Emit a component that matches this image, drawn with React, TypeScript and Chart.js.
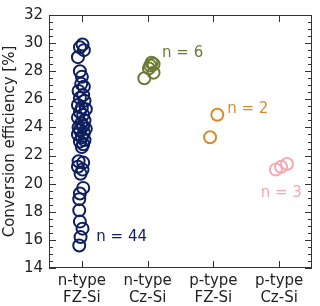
import React, { useEffect, useRef } from "react";
import { Chart, registerables } from "chart.js";

Chart.register(...registerables);

const categories: string[][] = [
  ["n-type", "FZ-Si"],
  ["n-type", "Cz-Si"],
  ["p-type", "FZ-Si"],
  ["p-type", "Cz-Si"],
];

const yTicks = [14, 16, 18, 20, 22, 24, 26, 28, 30, 32];

// n-type FZ-Si (44 cells)
const nFzEff = [
  29.9, 29.7, 29.5, 29.0, 28.0, 27.6, 27.1, 26.9, 26.6, 26.3, 26.1, 25.9, 25.6, 25.4,
  25.3, 25.1, 24.9, 24.7, 24.5, 24.3, 24.1, 24.0, 23.9, 23.8, 23.6, 23.5, 23.3, 23.1,
  23.0, 22.8, 22.6, 21.6, 21.5, 21.2, 21.0, 20.7, 19.7, 19.3, 18.9, 18.1, 17.3, 16.8,
  16.2, 15.6,
];
const nFzJitter = [
  0.01, -0.03, 0.03, -0.06, -0.03, 0.0, -0.01, 0.03, -0.05, 0.02, -0.03, 0.04, -0.06, 0.0,
  0.06, -0.03, 0.02, -0.06, 0.04, -0.01, 0.02, -0.05, 0.06, -0.03, 0.03, -0.06, 0.0, 0.04,
  -0.03, 0.02, 0.0, -0.05, 0.02, -0.06, 0.01, -0.02, 0.02, -0.03, -0.04, -0.04, -0.03, 0.01,
  -0.02, -0.04,
];

// n-type Cz-Si (6 cells)
const nCzEff = [28.6, 28.5, 28.4, 28.2, 27.9, 27.5];
const nCzJitter = [0.06, 0.09, 0.04, 0.02, 0.09, -0.05];

// p-type FZ-Si (2 cells)
const pFzEff = [24.9, 23.3];
const pFzJitter = [0.06, -0.05];

// p-type Cz-Si (3 cells)
const pCzEff = [21.0, 21.2, 21.4];
const pCzJitter = [-0.05, 0.03, 0.12];

const seriesColors = ["#0f1f5e", "#6b7b34", "#d68c2c", "#f7a9b1"];
const countLabels = ["n = 44", "n = 6", "n = 2", "n = 3"];
const countLabelX = [0.22, 1.22, 2.21, 2.72];
const countLabelY = [16.2, 29.3, 25.3, 19.3];

const FONT = "DejaVu Sans";

function pts(cat: number, eff: number[], jit: number[]) {
  return eff.map((v, i) => ({ x: cat + jit[i], y: v }));
}

const framePlugin = {
  id: "frameTicks",
  afterDraw(chart: any) {
    const { ctx, chartArea: a } = chart;
    const ys = chart.scales.y;
    const xs = chart.scales.x;
    ctx.save();
    ctx.strokeStyle = "#333";
    ctx.lineWidth = 1;
    ctx.strokeRect(a.left + 0.5, a.top + 0.5, a.right - a.left - 1, a.bottom - a.top - 1);
    ctx.beginPath();
    for (let v = 14; v <= 32.001; v += 0.5) {
      const major = Math.abs(v / 2 - Math.round(v / 2)) < 1e-6;
      const len = major ? 7 : 4;
      const y = Math.round(ys.getPixelForValue(v)) + 0.5;
      ctx.moveTo(a.left, y);
      ctx.lineTo(a.left + len, y);
      ctx.moveTo(a.right, y);
      ctx.lineTo(a.right - len, y);
    }
    for (let c = 0; c < categories.length; c++) {
      const x = Math.round(xs.getPixelForValue(c)) + 0.5;
      ctx.moveTo(x, a.bottom);
      ctx.lineTo(x, a.bottom - 7);
      ctx.moveTo(x, a.top);
      ctx.lineTo(x, a.top + 7);
    }
    ctx.stroke();
    ctx.font = `15px '${FONT}'`;
    ctx.textAlign = "left";
    ctx.textBaseline = "middle";
    for (let i = 0; i < countLabels.length; i++) {
      ctx.fillStyle = seriesColors[i];
      ctx.fillText(
        countLabels[i],
        xs.getPixelForValue(countLabelX[i]),
        ys.getPixelForValue(countLabelY[i])
      );
    }
    ctx.restore();
  },
};

export default function App() {
  const ref = useRef<HTMLCanvasElement | null>(null);
  useEffect(() => {
    document.body.style.margin = "0";
    if (!ref.current) return;
    Chart.defaults.font.family = FONT;
    Chart.defaults.font.size = 15;
    Chart.defaults.color = "#222";
    const sets = [
      pts(0, nFzEff, nFzJitter),
      pts(1, nCzEff, nCzJitter),
      pts(2, pFzEff, pFzJitter),
      pts(3, pCzEff, pCzJitter),
    ];
    const chart = new Chart(ref.current, {
      type: "scatter",
      data: {
        datasets: sets.map((d, i) => ({
          data: d,
          borderColor: seriesColors[i],
          backgroundColor: "rgba(0,0,0,0)",
          pointRadius: 6,
          pointBorderWidth: 2,
          pointHoverRadius: 6,
        })),
      },
      plugins: [framePlugin],
      options: {
        animation: false,
        responsive: false,
        events: [],
        layout: { padding: { top: 8, right: 4, left: 0, bottom: 0 } },
        plugins: { legend: { display: false }, tooltip: { enabled: false } },
        scales: {
          x: {
            type: "linear",
            min: -0.5,
            max: 3.5,
            grid: { display: false, drawTicks: false },
            border: { display: false },
            afterBuildTicks: (s: any) => {
              s.ticks = categories.map((_, i) => ({ value: i }));
            },
            afterFit: (s: any) => {
              s.height = 38;
            },
            ticks: {
              padding: 4,
              maxRotation: 0,
              autoSkip: false,
              color: "#222",
              font: { size: 15, family: FONT, lineHeight: 1.15 },
              callback: (v: any) => categories[Math.round(Number(v))] ?? "",
            },
          },
          y: {
            type: "linear",
            min: 14,
            max: 32,
            grid: { display: false, drawTicks: false },
            border: { display: false },
            afterBuildTicks: (s: any) => {
              s.ticks = yTicks.map((v) => ({ value: v }));
            },
            afterFit: (s: any) => {
              s.width = 49;
            },
            ticks: { padding: 6, color: "#222", font: { size: 15, family: FONT } },
            title: {
              display: true,
              text: "Conversion efficiency [%]",
              color: "#222",
              font: { size: 15, family: FONT },
              padding: { top: 1, bottom: 0 },
            },
          },
        },
      },
    } as any);
    return () => chart.destroy();
  }, []);
  return (
    <div style={{ width: 320, height: 306 }}>
      <canvas ref={ref} width={320} height={306} style={{ display: "block" }} />
    </div>
  );
}
